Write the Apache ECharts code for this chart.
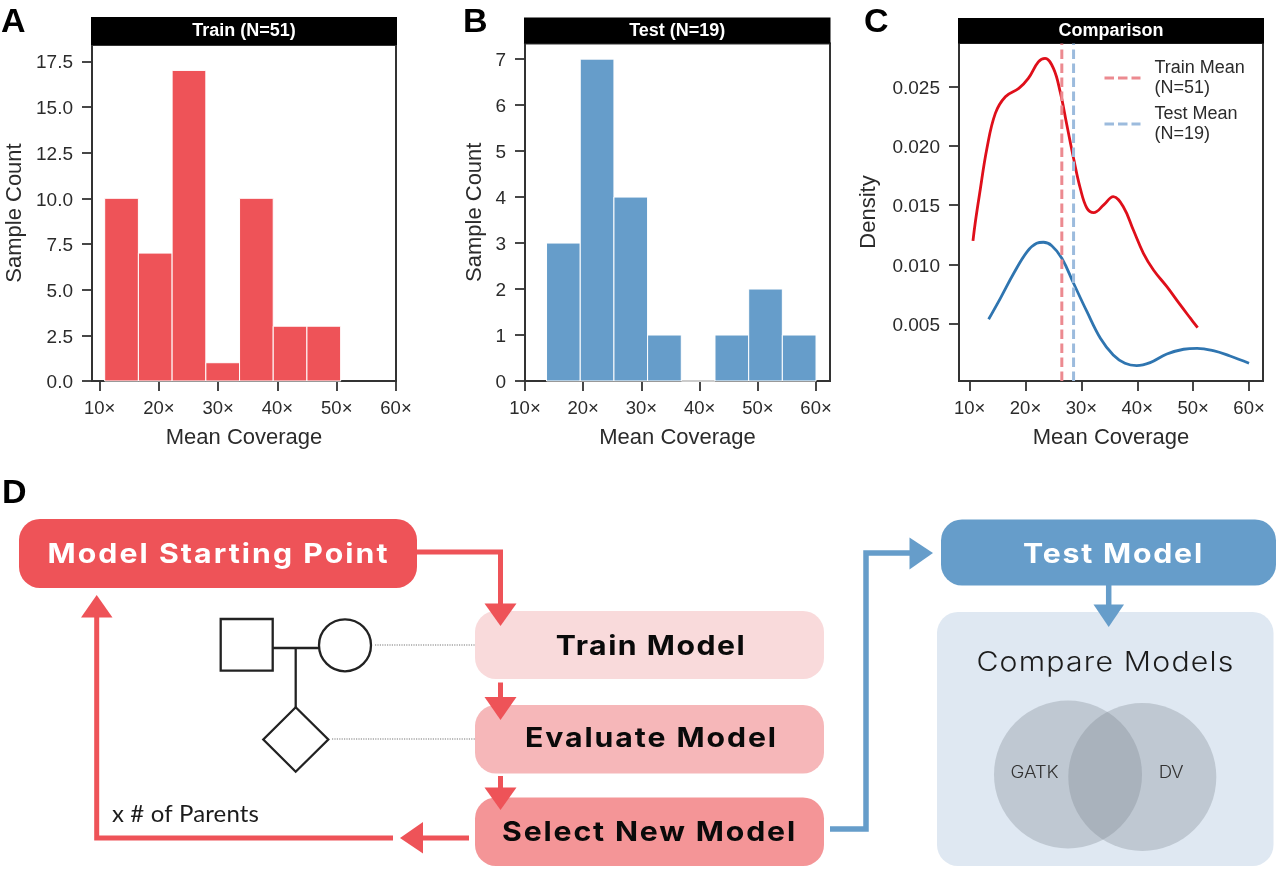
<!DOCTYPE html>
<html>
<head>
<meta charset="utf-8">
<style>html,body{margin:0;padding:0;background:#fff}#c{width:1280px;height:872px}</style>
<script src="https://cdn.jsdelivr.net/npm/echarts@6/dist/echarts.min.js"></script>
</head>
<body>
<div id="c"></div>
<script>
// ---- data ----
const trainBinEdges = [10.84, 16.53, 22.22, 27.91, 33.6, 39.28, 44.97, 50.66];
const trainCounts = [10, 7, 17, 1, 10, 3, 3];
const testBinEdges = [13.7, 19.49, 25.28, 31.06, 36.85, 42.64, 48.43, 54.21, 60];
const testCounts = [3, 7, 4, 1, 0, 1, 2, 1];
const trainDensityX = [10.6, 11.0, 11.8, 13.1, 14.6, 16.4, 18.8, 20.5, 22.3, 23.5, 25.0, 26.2, 27.4, 28.6, 29.8, 31.0, 32.2, 34.0, 35.7, 37.5, 39.3, 41.1, 42.9, 45.3, 47.7, 49.5, 50.8];
const trainDensityY = [0.01198, 0.0135, 0.0160, 0.0198, 0.02275, 0.02416, 0.02486, 0.0257, 0.0271, 0.0274, 0.02655, 0.02458, 0.02177, 0.01896, 0.01643, 0.01474, 0.01437, 0.01502, 0.01572, 0.01487, 0.0129, 0.01094, 0.00953, 0.00812, 0.00658, 0.00546, 0.00466];
const testDensityX = [13.4, 15.5, 17.9, 20.3, 22.0, 23.2, 24.7, 26.5, 28.6, 31.0, 33.4, 35.7, 37.8, 39.9, 42.3, 45.3, 48.3, 50.7, 53.6, 56.6, 60.0];
const testDensityY = [0.00537, 0.00714, 0.00925, 0.01108, 0.01178, 0.01187, 0.01158, 0.01052, 0.00841, 0.00601, 0.00377, 0.00236, 0.00166, 0.00146, 0.00171, 0.00244, 0.00284, 0.00292, 0.00272, 0.00227, 0.00166];
const trainMean = 26.5;
const testMean = 28.6;
const coverageTicks = [10, 20, 30, 40, 50, 60];
const trainCountTicks = [0, 2.5, 5, 7.5, 10, 12.5, 15, 17.5];
const testCountTicks = [0, 1, 2, 3, 4, 5, 6, 7];
const densityTicks = [0.005, 0.01, 0.015, 0.02, 0.025];
const trainMeanName = 'Train Mean\n(N=51)';
const testMeanName = 'Test Mean\n(N=19)';

// ---- style ----
const RED = '#EE5358', BLUE = '#669DCA', INK = '#333333', TXT = '#2b2b2b';
const SANS = '"Liberation Sans", Arial, sans-serif';
const DISPLAY = 'Inter, "Noto Sans", sans-serif';

// The diagram's headings are tracked out in the reference; zrender text has no
// letter-spacing option, so apply the canvas property to just those strings.
const tracking = {};
const nativeFillText = CanvasRenderingContext2D.prototype.fillText;
CanvasRenderingContext2D.prototype.fillText = function (t, x, y, m) {
  const s = tracking[t];
  if (s !== undefined) this.letterSpacing = s + 'px';
  const r = m === undefined ? nativeFillText.call(this, t, x, y) : nativeFillText.call(this, t, x, y, m);
  if (s !== undefined) this.letterSpacing = '0px';
  return r;
};

function xAxis(i, min, max) {
  return {
    type: 'value', gridIndex: i, min: min, max: max,
    name: 'Mean Coverage', nameLocation: 'middle', nameGap: 46,
    nameTextStyle: { fontFamily: SANS, fontSize: 22, color: TXT },
    axisLine: { onZero: false, lineStyle: { color: INK, width: 2 } },
    axisTick: { show: true, length: 10, lineStyle: { color: INK, width: 1.8 }, customValues: coverageTicks },
    axisLabel: { show: true, fontFamily: SANS, fontSize: 18.5, color: TXT, margin: 18, customValues: coverageTicks, formatter: v => v + '×' },
    splitLine: { show: false }
  };
}
function yAxis(i, min, max, ticks, name, gap, fmt) {
  return {
    type: 'value', gridIndex: i, min: min, max: max,
    name: name, nameLocation: 'middle', nameGap: gap, nameRotate: 90,
    nameTextStyle: { fontFamily: SANS, fontSize: 22, color: TXT },
    axisLine: { show: true, onZero: false, lineStyle: { color: INK, width: 2 } },
    axisTick: { show: true, length: 10, lineStyle: { color: INK, width: 1.8 }, customValues: ticks },
    axisLabel: { show: true, fontFamily: SANS, fontSize: 19, color: TXT, margin: 19, verticalAlign: 'top', lineHeight: 4, customValues: ticks, formatter: fmt },
    splitLine: { show: false }
  };
}
function histSeries(i, edges, counts, color) {
  return {
    type: 'custom', xAxisIndex: i, yAxisIndex: i,
    encode: { x: [0, 1], y: 2 },
    data: counts.map((c, k) => [edges[k], edges[k + 1], c]),
    renderItem: function (params, api) {
      const a = api.coord([api.value(0), api.value(2)]);
      const b = api.coord([api.value(1), 0]);
      return { type: 'rect', shape: { x: a[0], y: a[1], width: b[0] - a[0], height: b[1] - a[1] },
        style: { fill: color, stroke: '#ffffff', lineWidth: 1 } };
    }
  };
}
const zip = (xs, ys) => xs.map((x, k) => [x, ys[k]]);
const D_MIN = 0.00016, D_MAX = 0.02869;

// ---- diagram helpers ----
const measure = document.createElement('canvas').getContext('2d');
function label(text, cx, cy, width, size, weight, fill, family, stretch) {
  const fam = family || DISPLAY;
  const sx = stretch || 1;
  measure.font = weight + ' ' + size + 'px ' + fam;
  tracking[text] = (width / sx - measure.measureText(text).width) / (text.length - 1);
  return { type: 'text', x: cx, y: cy, scaleX: sx, scaleY: 1, silent: true, z: 30,
    style: { text: text, x: 0, y: 0, align: 'center', verticalAlign: 'middle', fontSize: size, fontWeight: weight, fontFamily: fam, fill: fill } };
}
const box = (x0, y0, x1, y1, r, fill, z) => ({ type: 'rect', silent: true, z: z || 10,
  shape: { x: x0, y: y0, width: x1 - x0, height: y1 - y0, r: r }, style: { fill: fill } });
const tri = (pts, fill) => ({ type: 'polygon', silent: true, z: 25, shape: { points: pts }, style: { fill: fill } });
const wire = (pts, stroke, w, z) => ({ type: 'polyline', silent: true, z: z || 24, shape: { points: pts },
  style: { stroke: stroke, lineWidth: w, fill: null, lineJoin: 'miter' } });
const dots = (x0, x1, y) => ({ type: 'line', silent: true, z: 9, shape: { x1: x0, y1: y, x2: x1, y2: y },
  style: { stroke: '#777', lineWidth: 1.2, lineDash: [1.2, 1.2] } });
const letter = (t, x, y) => ({ type: 'text', silent: true, z: 40, x: x, y: y,
  style: { text: t, align: 'left', verticalAlign: 'middle', fontFamily: SANS, fontWeight: 'bold', fontSize: 34, fill: '#000' } });
function strip(x0, x1, y0, y1, t) {
  return [box(x0, y0, x1, y1, 0, '#000', 20),
    { type: 'text', silent: true, z: 21, x: (x0 + x1) / 2, y: (y0 + y1) / 2 + 0.5,
      style: { text: t, align: 'center', verticalAlign: 'middle', fontFamily: SANS, fontWeight: 'bold', fontSize: 18, fill: '#fff' } }];
}

const PED = '#222222';
const VENN = 'rgba(119,129,139,0.31)';
const diagram = [
  letter('A', 1, 23), letter('B', 463, 23), letter('C', 864, 23), letter('D', 2, 494),
  ...strip(91, 397, 17, 45, 'Train (N=51)'),
  ...strip(524, 830.5, 17.5, 43.5, 'Test (N=19)'),
  ...strip(958, 1264, 18, 43.5, 'Comparison'),

  box(19, 519, 417, 588, 21, RED),
  box(475, 611, 824, 679, 21, '#F9DADB'),
  box(475, 705, 824, 773.5, 21, '#F6B7B9'),
  box(475, 797.5, 824, 866, 21, '#F49597'),
  box(941, 519.5, 1276, 585.5, 21, BLUE),
  box(937, 612, 1273.5, 866, 21, '#DFE8F2', 8),

  label('Model Starting Point', 218.5, 555, 340, 27, 'bold', '#fff', null, 1.12),
  label('Train Model', 651, 646.5, 189, 27, 'bold', '#0a0a0a', null, 1.12),
  label('Evaluate Model', 651.5, 739, 251, 27, 'bold', '#0a0a0a', null, 1.12),
  label('Select New Model', 649.5, 833, 293, 27, 'bold', '#0a0a0a', null, 1.12),
  label('Test Model', 1113.5, 555, 179, 27, 'bold', '#fff', null, 1.12),
  label('Compare Models', 1105.5, 663, 257, 27, '300', '#1c1c1c', null, 1.12),
  label('x # of Parents', 185.5, 814, 147, 24, 'normal', '#1c1c1c', 'Lato, sans-serif'),

  wire([[417, 552], [500.5, 552], [500.5, 606]], RED, 5),
  tri([[484.5, 603.5], [516.5, 603.5], [500.5, 626]], RED),
  wire([[500.5, 682.5], [500.5, 700]], RED, 5),
  tri([[484.5, 697], [516.5, 697], [500.5, 720]], RED),
  wire([[500.5, 776], [500.5, 790]], RED, 5),
  tri([[484.5, 787.5], [516.5, 787.5], [500.5, 810]], RED),
  wire([[469, 838], [420, 838]], RED, 5),
  tri([[423, 822], [423, 853.5], [400, 838]], RED),
  wire([[393, 838], [96.7, 838], [96.7, 615]], RED, 5),
  tri([[81, 617.5], [112.5, 617.5], [96.7, 595]], RED),

  wire([[830, 829], [866, 829], [866, 553], [912, 553]], BLUE, 5.5),
  tri([[909.5, 537.5], [909.5, 569.5], [933, 553]], BLUE),
  wire([[1108.7, 585], [1108.7, 607]], BLUE, 5.5),
  tri([[1093.5, 604.5], [1124, 604.5], [1108.7, 627]], BLUE),

  { type: 'rect', silent: true, z: 11, shape: { x: 220.7, y: 619, width: 52, height: 51.7 }, style: { fill: '#fff', stroke: PED, lineWidth: 2.3 } },
  { type: 'circle', silent: true, z: 11, shape: { cx: 345, cy: 645.3, r: 26 }, style: { fill: '#fff', stroke: PED, lineWidth: 2.3 } },
  wire([[272.7, 648], [319, 648]], PED, 2.3, 10),
  wire([[295.7, 648], [295.7, 707.5]], PED, 2.3, 10),
  { type: 'polygon', silent: true, z: 11, shape: { points: [[295.7, 707.3], [328.3, 739.5], [295.7, 771.7], [263.3, 739.5]] }, style: { fill: '#fff', stroke: PED, lineWidth: 2.3 } },
  dots(375, 475, 645), dots(332, 475, 739),

  { type: 'circle', silent: true, z: 11, shape: { cx: 1068, cy: 774.5, r: 74 }, style: { fill: VENN } },
  { type: 'circle', silent: true, z: 11, shape: { cx: 1142.3, cy: 777, r: 74 }, style: { fill: VENN } },
  label('GATK', 1034.5, 773, 48, 17, '300', '#333', null, 1.1),
  label('DV', 1171, 773, 25, 17, '300', '#333', null, 1.1)
];

const chart = echarts.init(document.getElementById('c'), null, { renderer: 'canvas' });
chart.setOption({
  animation: false,
  backgroundColor: '#ffffff',
  grid: [
    { left: 92, top: 45, width: 304, height: 336, show: true, borderColor: INK, borderWidth: 2, outerBoundsMode: 'none' },
    { left: 525, top: 43.5, width: 305, height: 337.5, show: true, borderColor: INK, borderWidth: 2, outerBoundsMode: 'none' },
    { left: 959, top: 43, width: 304, height: 338, show: true, borderColor: INK, borderWidth: 2, outerBoundsMode: 'none' }
  ],
  xAxis: [xAxis(0, 8.7, 60), xAxis(1, 10, 62.4), xAxis(2, 8.1, 62.5)],
  yAxis: [
    yAxis(0, 0, 18.39, trainCountTicks, 'Sample Count', 66, v => v.toFixed(1)),
    yAxis(1, 0, 7.34, testCountTicks, 'Sample Count', 39, v => String(v)),
    yAxis(2, D_MIN, D_MAX, densityTicks, 'Density', 79, v => v.toFixed(3))
  ],
  legend: {
    left: 1103, top: 58, orient: 'vertical', padding: 0, itemGap: 6, itemWidth: 36, itemHeight: 14,
    data: [trainMeanName, testMeanName],
    selectedMode: false,
    itemStyle: { opacity: 0 },
    lineStyle: { width: 3, type: [9.5, 4] },
    textStyle: { fontFamily: SANS, fontSize: 18, color: TXT, lineHeight: 20, padding: [0, 0, 0, 9] }
  },
  series: [
    histSeries(0, trainBinEdges, trainCounts, RED),
    histSeries(1, testBinEdges, testCounts, BLUE),
    { type: 'line', name: trainMeanName, xAxisIndex: 2, yAxisIndex: 2, showSymbol: false, symbol: 'none', z: 3,
      data: [[trainMean, D_MIN], [trainMean, D_MAX]], lineStyle: { color: '#EC8A90', width: 3, type: [9.5, 4.5] }, itemStyle: { color: '#EC8A90' } },
    { type: 'line', name: testMeanName, xAxisIndex: 2, yAxisIndex: 2, showSymbol: false, symbol: 'none', z: 3,
      data: [[testMean, D_MIN], [testMean, D_MAX]], lineStyle: { color: '#9CBBDD', width: 3, type: [9.5, 4.5] }, itemStyle: { color: '#9CBBDD' } },
    { type: 'line', name: 'Train density', xAxisIndex: 2, yAxisIndex: 2, showSymbol: false, symbol: 'none', smooth: 0.4, z: 2,
      data: zip(trainDensityX, trainDensityY), lineStyle: { color: '#DF0F1A', width: 2.8 } },
    { type: 'line', name: 'Test density', xAxisIndex: 2, yAxisIndex: 2, showSymbol: false, symbol: 'none', smooth: 0.4, z: 2,
      data: zip(testDensityX, testDensityY), lineStyle: { color: '#2F75B0', width: 2.8 } }
  ],
  graphic: { elements: diagram }
});
</script>
</body>
</html>
